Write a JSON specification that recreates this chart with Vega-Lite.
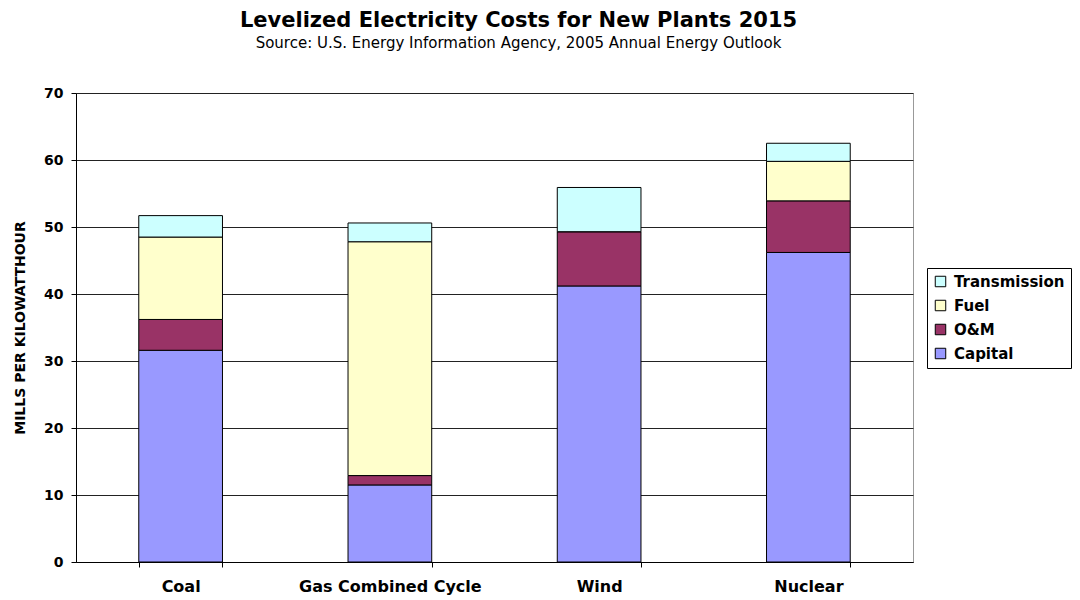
{
  "$schema": "https://vega.github.io/schema/vega-lite/v6.json",
  "width": 837,
  "height": 469,
  "autosize": {"type": "none"},
  "padding": {"left": 76, "top": 93, "right": 167, "bottom": 38},
  "background": "white",
  "title": {
    "text": "Levelized Electricity Costs for New Plants 2015",
    "subtitle": "Source: U.S. Energy Information Agency, 2005 Annual Energy Outlook",
    "anchor": "middle",
    "frame": "group",
    "dx": 24,
    "offset": 35,
    "font": "DejaVu Sans",
    "fontSize": 21,
    "fontWeight": "bold",
    "color": "black",
    "subtitleFont": "DejaVu Sans",
    "subtitleFontSize": 15,
    "subtitleColor": "black",
    "subtitlePadding": 5
  },
  "data": {
    "values": [
      {"plant": "Coal", "component": "Capital", "k": 1, "value": 31.6},
      {"plant": "Coal", "component": "O&M", "k": 2, "value": 4.6},
      {"plant": "Coal", "component": "Fuel", "k": 3, "value": 12.3},
      {"plant": "Coal", "component": "Transmission", "k": 4, "value": 3.2},
      {"plant": "Gas Combined Cycle", "component": "Capital", "k": 1, "value": 11.5},
      {"plant": "Gas Combined Cycle", "component": "O&M", "k": 2, "value": 1.4},
      {"plant": "Gas Combined Cycle", "component": "Fuel", "k": 3, "value": 34.9},
      {"plant": "Gas Combined Cycle", "component": "Transmission", "k": 4, "value": 2.8},
      {"plant": "Wind", "component": "Capital", "k": 1, "value": 41.2},
      {"plant": "Wind", "component": "O&M", "k": 2, "value": 8.1},
      {"plant": "Wind", "component": "Fuel", "k": 3, "value": 0},
      {"plant": "Wind", "component": "Transmission", "k": 4, "value": 6.6},
      {"plant": "Nuclear", "component": "Capital", "k": 1, "value": 46.2},
      {"plant": "Nuclear", "component": "O&M", "k": 2, "value": 7.7},
      {"plant": "Nuclear", "component": "Fuel", "k": 3, "value": 5.9},
      {"plant": "Nuclear", "component": "Transmission", "k": 4, "value": 2.7}
    ]
  },
  "mark": {"type": "bar", "stroke": "black", "strokeWidth": 1},
  "encoding": {
    "x": {
      "field": "plant",
      "type": "nominal",
      "sort": ["Coal", "Gas Combined Cycle", "Wind", "Nuclear"],
      "scale": {"paddingInner": 0.6, "paddingOuter": 0.3},
      "axis": {
        "title": null,
        "labelAngle": 0,
        "labelLimit": 400,
        "tickBand": "extent",
        "tickSize": 5,
        "tickColor": "black",
        "domainColor": "black",
        "labelFont": "DejaVu Sans",
        "labelFontWeight": "bold",
        "labelFontSize": 16,
        "labelColor": "black",
        "labelPadding": 11
      }
    },
    "y": {
      "field": "value",
      "type": "quantitative",
      "stack": "zero",
      "scale": {"domain": [0, 70]},
      "axis": {
        "title": "MILLS PER KILOWATTHOUR",
        "titleFont": "DejaVu Sans",
        "titleFontSize": 14,
        "titleFontWeight": "bold",
        "titleColor": "black",
        "titlePadding": 16,
        "values": [0, 10, 20, 30, 40, 50, 60, 70],
        "tickSize": 5,
        "tickColor": "black",
        "domainColor": "black",
        "gridColor": "#222",
        "labelFont": "DejaVu Sans",
        "labelFontWeight": "bold",
        "labelFontSize": 14,
        "labelColor": "black",
        "labelPadding": 8
      }
    },
    "color": {
      "field": "component",
      "type": "nominal",
      "scale": {
        "domain": ["Transmission", "Fuel", "O&M", "Capital"],
        "range": ["#CCFFFF", "#FFFFCC", "#993366", "#9999FF"]
      },
      "legend": {
        "title": null,
        "orient": "none",
        "legendX": 851,
        "legendY": 175,
        "strokeColor": "black",
        "padding": 6,
        "symbolType": "square",
        "symbolSize": 110,
        "symbolStrokeColor": "black",
        "symbolStrokeWidth": 1,
        "symbolOpacity": 1,
        "labelFont": "DejaVu Sans",
        "labelFontWeight": "bold",
        "labelFontSize": 15,
        "labelColor": "black",
        "rowPadding": 8,
        "labelOffset": 6
      }
    },
    "order": {"field": "k", "type": "quantitative"}
  },
  "config": {
    "view": {"stroke": "#999"}
  }
}
